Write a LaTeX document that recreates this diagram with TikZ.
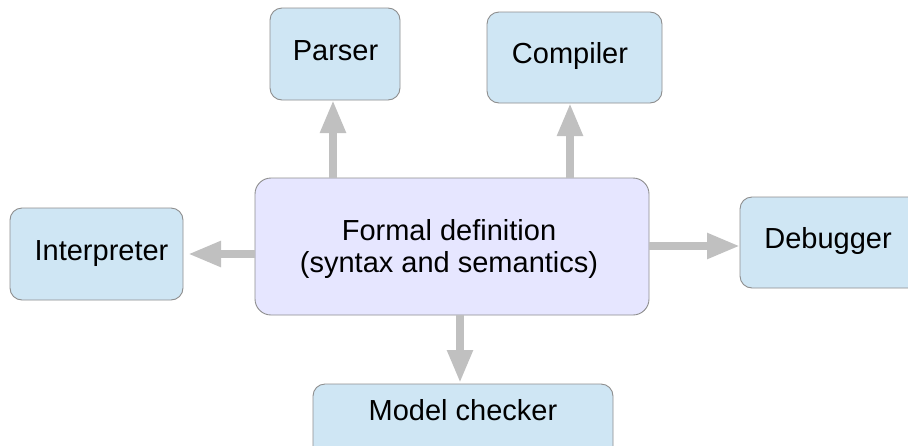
\documentclass[tikz,border=0pt]{standalone}
\usepackage{fontspec}
\setmainfont{Liberation Sans}
\usetikzlibrary{arrows.meta,calc}
\definecolor{toolfill}{HTML}{CFE6F4}
\definecolor{corefill}{HTML}{E6E6FF}
\definecolor{boxline}{HTML}{8E8E8E}
\definecolor{arrowgray}{HTML}{C0C0C0}
\tikzset{
  x=1pt, y=-1pt,
  toolbox/.style={draw=boxline, line width=0.9pt, fill=toolfill, rounded corners=12pt},
  corebox/.style={draw=boxline, line width=0.9pt, fill=corefill, rounded corners=16pt},
  boxtext/.style={anchor=base, inner sep=0pt, font=\fontsize{29}{32}\selectfont},
  flow/.style={draw=arrowgray, line width=8pt, -{Triangle[length=33pt,width=24pt]}},
}
\begin{document}
\begin{tikzpicture}
  \clip (0,0) rectangle (908,445);
  \fill[white] (0,0) rectangle (908,445);

  % boxes
  \path[corebox] (255,178) rectangle (649,315);
  \node[inner sep=0pt, minimum width=394pt, minimum height=137pt] (core) at (452,246.5) {};
  \path[toolbox] (270,8) rectangle (400,100);
  \node[inner sep=0pt, minimum width=130pt, minimum height=92pt] (parser) at (335,54) {};
  \path[toolbox] (487,12) rectangle (662,103);
  \node[inner sep=0pt, minimum width=175pt, minimum height=91pt] (compiler) at (574.5,57.5) {};
  \path[toolbox] (10,208) rectangle (183,300);
  \node[inner sep=0pt, minimum width=173pt, minimum height=92pt] (interp) at (96.5,254) {};
  \path[toolbox] (740,197) rectangle (930,288);
  \node[inner sep=0pt, minimum width=190pt, minimum height=91pt] (debugger) at (835,242.5) {};
  \path[toolbox] (313,384) rectangle (613,470);
  \node[inner sep=0pt, minimum width=300pt, minimum height=86pt] (checker) at (463,427) {};

  % labels
  \node[boxtext] (parserlbl) at (335.5,60) {Parser};
  \node[boxtext] (compilerlbl) at (570,63) {Compiler};
  \node[boxtext, align=center] (corelbl) at (449,272) {Formal definition\\(syntax and semantics)};
  \node[boxtext] (interplbl) at (101.5,260) {Interpreter};
  \node[boxtext] (debuggerlbl) at (828,248) {Debugger};
  \node[boxtext] (checkerlbl) at (463,420) {Model checker};

  % connectors
  \coordinate (pbase) at (333,178);
  \coordinate (ptip) at (333,100);
  \draw[flow] (pbase) -- (ptip);
  \coordinate (cbase) at (570,178);
  \coordinate (ctip) at (570,103);
  \draw[flow] (cbase) -- (ctip);
  \coordinate (ibase) at (255,254);
  \coordinate (itip) at (188,254);
  \draw[flow] (ibase) -- (itip);
  \coordinate (dbase) at (649,246);
  \coordinate (dtip) at (740,246);
  \draw[flow] (dbase) -- (dtip);
  \coordinate (mbase) at (460,315);
  \coordinate (mtip) at (460,383);
  \draw[flow] (mbase) -- (mtip);
\end{tikzpicture}
\end{document}
